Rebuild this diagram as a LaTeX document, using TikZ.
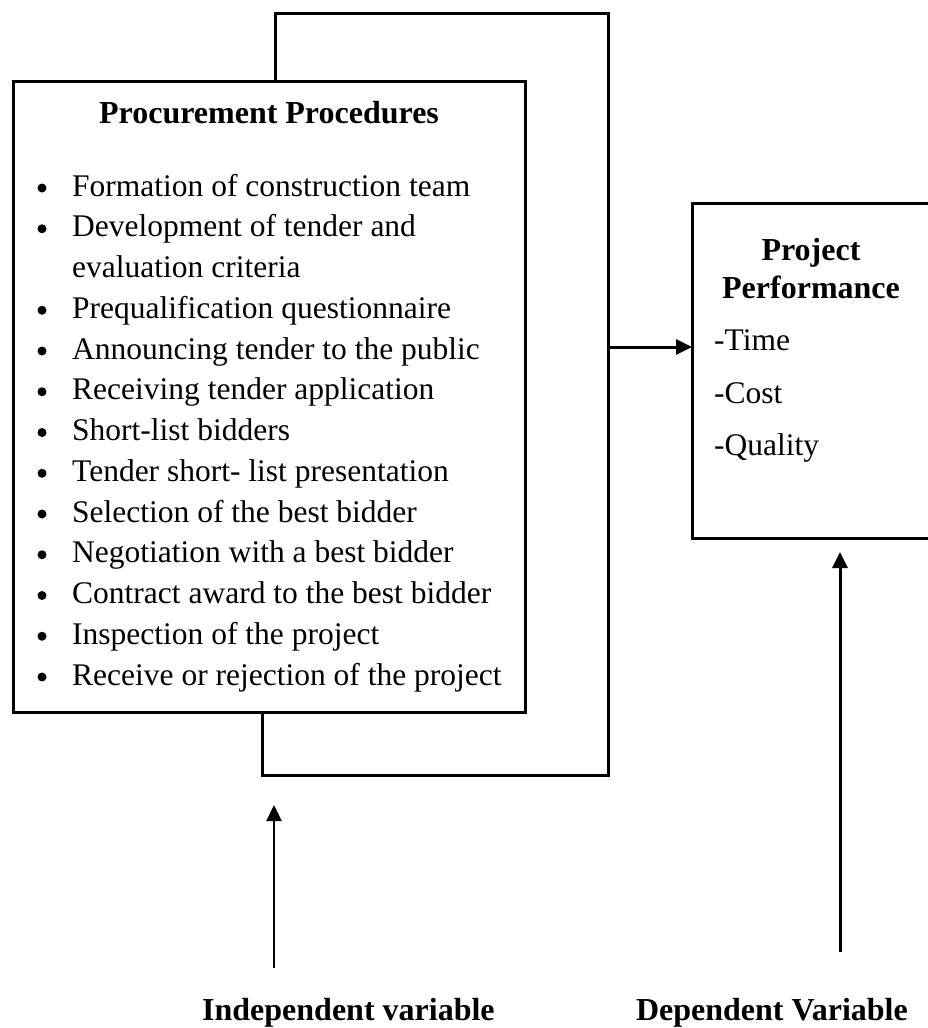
\documentclass[tikz,border=0pt]{standalone}
\usepackage{fontspec}
\setmainfont{Liberation Serif}
\usetikzlibrary{arrows.meta}
\tikzset{
  txt/.style={font=\fontsize{31.5}{38}\selectfont, inner sep=0pt, anchor=base west},
  ttl/.style={font=\fontsize{32}{38}\selectfont\bfseries, inner sep=0pt, anchor=base},
  bul/.style={circle, fill=black, inner sep=0pt, minimum size=9pt},
  framebox/.style={draw, line width=3pt, fill=white, inner sep=0pt, outer sep=0pt, anchor=north west},
  loopline/.style={line width=3pt, line join=miter},
  arr/.style={line width=3pt, -{Triangle[length=16pt,width=15pt]}},
  thinarr/.style={line width=2.5pt, -{Triangle[length=16pt,width=15pt]}}
}
\begin{document}
\begin{tikzpicture}[x=1pt,y=-1pt]
\useasboundingbox (0,0) rectangle (928,1028);
% feedback loop behind the procedures box
\coordinate (lpA) at (275,90);
\coordinate (lpB) at (608,13);
\coordinate (lpC) at (262,775);
\coordinate (lpD) at (262,700);
\draw[loopline] (lpA) |- (lpB) |- (lpC) -- (lpD);
% procedures box
\node[framebox, minimum width=512pt, minimum height=631pt] (proc) at (13,81) {};
\node[ttl] (ptitle) at (269,123) {Procurement Procedures};
\foreach \t [count=\i from 0] in {Formation of construction team,
  Development of tender and, evaluation criteria, Prequalification questionnaire,
  Announcing tender to the public, Receiving tender application, Short-list bidders,
  Tender short- list presentation, Selection of the best bidder,
  Negotiation with a best bidder, Contract award to the best bidder,
  Inspection of the project, Receive or rejection of the project}{
  \node[txt] (item\i) at (72,196+40.75*\i) {\t};
}
\foreach \i in {0,1,3,4,5,6,7,8,9,10,11,12}{
  \node[bul] (dot\i) at (42,188+40.75*\i) {};
}
% performance box
\node[framebox, minimum width=238pt, minimum height=335pt] (perf) at (692,203) {};
\node[ttl] (perfA) at (811,260) {Project};
\node[ttl] (perfB) at (811,298) {Performance};
\node[txt] (time) at (714,350) {-Time};
\node[txt] (cost) at (714,403) {-Cost};
\node[txt] (qual) at (714,455) {-Quality};
% arrow from loop to performance
\coordinate (fb) at (608,347);
\draw[arr] (fb) -- (fb -| perf.west);
% bottom labels and arrows
\node[ttl, anchor=base west] (indep) at (202,1020) {Independent variable};
\node[ttl, anchor=base east] (dep) at (908,1020) {Dependent Variable};
\coordinate (iaS) at (274,968);
\coordinate (iaE) at (274,805);
\draw[thinarr] (iaS) -- (iaE);
\coordinate (daS) at (840,952);
\coordinate (daE) at (840,552);
\draw[arr] (daS) -- (daE);
\end{tikzpicture}
\end{document}
